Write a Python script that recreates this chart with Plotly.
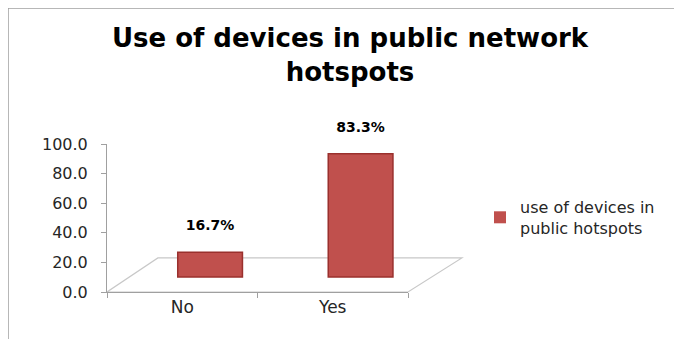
import plotly.graph_objects as go

categories = ["No", "Yes"]
values = [16.7, 83.3]
value_labels = ["16.7%", "83.3%"]
series_name = "use of devices in<br>public hotspots"
y_ticks = [0, 20, 40, 60, 80, 100]
y_tick_labels = ["0.0", "20.0", "40.0", "60.0", "80.0", "100.0"]

OFF = 8  # page body margin
W, H = 682 - 2 * OFF, 339 - OFF
L, T = 107 - OFF, 144 - OFF
pw, ph = 301, 148
R = W - L - pw
B = H - T - ph
depth = 15 / 1.48  # pseudo-3D depth shift of the bars, in axis units

def px(x):
    return (x - OFF - L) / pw

def py(y):
    return (H - B - (y - OFF)) / ph

fig = go.Figure()
fig.add_trace(go.Bar(
    x=categories, y=values, yaxis="y2", showlegend=False,
    marker=dict(color="#C0504D", line=dict(color="#9A302D", width=1.5)),
    width=0.43, offset=-0.03,
    text=value_labels,
    texttemplate="%{text}<br><span style='font-size:3px'> </span>",
    textposition="outside", cliponaxis=False,
    textfont=dict(family="DejaVu Sans", size=14, color="#000000", weight="bold"),
))
fig.add_trace(go.Scatter(
    x=[None], y=[None], mode="markers", name=series_name,
    marker=dict(symbol="square", size=8, color="#C0504D"),
))

# floor of the pseudo-3D plot
fig.add_shape(type="path", xref="x domain", yref="y domain",
              path="M 0 0 L 1.0 0 L 1.179 0.23 L 0.169 0.23 Z",
              line=dict(color="#C8C8C8", width=1.2), fillcolor="rgba(0,0,0,0)", layer="below")
# chart border
fig.add_shape(type="path", xref="paper", yref="paper",
              path=f"M {px(8)} {py(345)} L {px(8)} {py(8)} L {px(690)} {py(8)}",
              line=dict(color="#A0A0A0", width=1.5))

fig.update_layout(
    width=W, height=H,
    margin=dict(l=L, r=R, t=T, b=B),
    paper_bgcolor="white", plot_bgcolor="white",
    title=dict(text="Use of devices in public network<br>hotspots",
               x=(350 - OFF) / W, xref="container", xanchor="center",
               y=1 - (47 - OFF) / H, yref="container", yanchor="top",
               font=dict(family="DejaVu Sans", size=26, color="#000000", weight="bold")),
    legend=dict(x=px(480), y=py(190), xanchor="left", yanchor="top",
                font=dict(family="DejaVu Sans", size=16, color="#262626"),
                bgcolor="rgba(0,0,0,0)", itemsizing="constant"),
    xaxis=dict(showline=True, linecolor="#A0A0A0", ticks="outside", tickson="boundaries",
               ticklen=5, tickcolor="#A0A0A0", showgrid=False,
               tickfont=dict(family="DejaVu Sans", size=17, color="#262626")),
    yaxis=dict(range=[0, 100], tickvals=y_ticks, ticktext=y_tick_labels,
               showline=True, linecolor="#A0A0A0", ticks="outside", ticklen=5,
               tickcolor="#A0A0A0", showgrid=False, zeroline=False, ticklabelstandoff=10,
               tickfont=dict(family="DejaVu Sans", size=16, color="#262626")),
    yaxis2=dict(overlaying="y", range=[-depth, 100 - depth], visible=False,
                showgrid=False, zeroline=False),
)

fig.write_html("out.html")
